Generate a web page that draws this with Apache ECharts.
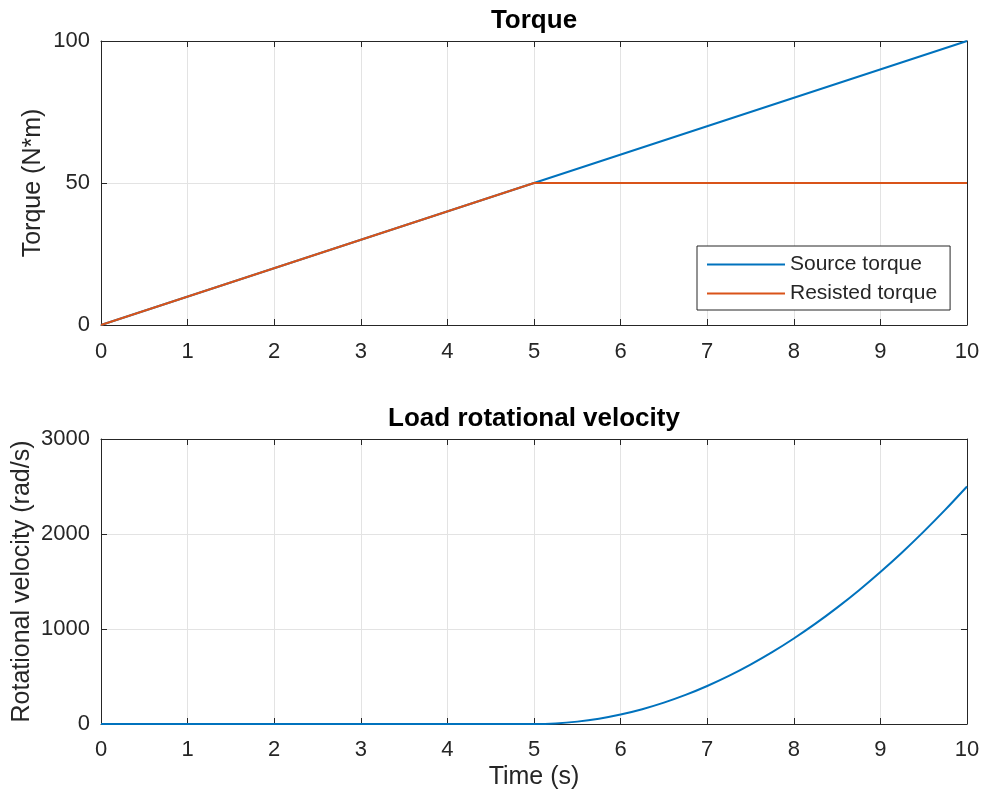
<!DOCTYPE html>
<html><head><meta charset="utf-8">
<script src="https://cdn.jsdelivr.net/npm/echarts@6/dist/echarts.min.js"></script>
<style>html,body{margin:0;padding:0;background:#fff}#c{width:987px;height:804px}</style>
</head><body><div id="c"></div>
<script>
// Torque subplot
var torqueTime = [0, 5, 10];
var sourceTorque = [0, 50, 100];
var resistedTorque = [0, 50, 50];
// Velocity subplot
var velTime = [0, 1, 2, 3, 4, 5, 5.25, 5.5, 5.75, 6, 6.25, 6.5, 6.75, 7, 7.25, 7.5, 7.75, 8, 8.25, 8.5, 8.75, 9, 9.25, 9.5, 9.75, 10];
var velocity = [0, 0, 0, 0, 0, 0, 6, 25, 56, 100, 156, 225, 306, 400, 506, 625, 756, 900, 1056, 1225, 1406, 1600, 1806, 2025, 2256, 2500];
var seriesNames = ['Source torque', 'Resisted torque'];
var titles = ['Torque', 'Load rotational velocity'];

function pairs(xs, ys) { return xs.map(function (x, i) { return [x, ys[i]]; }); }

var FONT = 'Liberation Sans, Arial, Helvetica, sans-serif';
var AX = '#262626';
var TICK_FS = 22;
var NAME_FS = 25;

function mainX(gi, name, margin) {
  return {
    type: 'value', gridIndex: gi, min: 0, max: 10, interval: 1, position: 'bottom',
    name: name, nameLocation: 'middle', nameGap: 41, nameMoveOverlap: false,
    nameTextStyle: { fontSize: NAME_FS, color: AX, fontFamily: FONT, verticalAlign: 'top' },
    axisLine: { show: true, onZero: false, lineStyle: { color: AX, width: 1 } },
    axisTick: { show: true, inside: true, length: 6, lineStyle: { color: AX } },
    axisLabel: { fontSize: TICK_FS, color: AX, fontFamily: FONT, margin: margin },
    splitLine: { show: true, lineStyle: { color: '#e3e3e3', width: 1 } }
  };
}
function topX(gi) {
  return {
    type: 'value', gridIndex: gi, min: 0, max: 10, interval: 1, position: 'top',
    axisLine: { show: true, onZero: false, lineStyle: { color: AX, width: 1 } },
    axisTick: { show: true, inside: true, length: 6, lineStyle: { color: AX } },
    axisLabel: { show: false }, splitLine: { show: false }
  };
}
function mainY(gi, max, interval, name, gap) {
  return {
    type: 'value', gridIndex: gi, min: 0, max: max, interval: interval, position: 'left',
    name: name, nameLocation: 'middle', nameGap: gap, nameMoveOverlap: false,
    nameTextStyle: { fontSize: NAME_FS, color: AX, fontFamily: FONT },
    axisLine: { show: true, onZero: false, lineStyle: { color: AX, width: 1 } },
    axisTick: { show: true, inside: true, length: 6, lineStyle: { color: AX } },
    axisLabel: { fontSize: TICK_FS, color: AX, fontFamily: FONT, margin: 11, formatter: function (v) { return String(v); } },
    splitLine: { show: true, lineStyle: { color: '#e3e3e3', width: 1 } }
  };
}
function rightY(gi, max, interval) {
  return {
    type: 'value', gridIndex: gi, min: 0, max: max, interval: interval, position: 'right',
    axisLine: { show: true, onZero: false, lineStyle: { color: AX, width: 1 } },
    axisTick: { show: true, inside: true, length: 6, lineStyle: { color: AX } },
    axisLabel: { show: false }, splitLine: { show: false }
  };
}

var cx = 101 + 866 / 2;
var chart = echarts.init(document.getElementById('c'), null, { renderer: 'canvas' });
chart.setOption({
  animation: false,
  backgroundColor: '#ffffff',
  textStyle: { fontFamily: FONT },
  grid: [
    { left: 101, top: 41, width: 866, height: 284, containLabel: false, outerBoundsMode: 'none' },
    { left: 101, top: 439, width: 866, height: 285, containLabel: false, outerBoundsMode: 'none' }
  ],
  xAxis: [mainX(0, '', 16), topX(0), mainX(1, 'Time (s)', 15), topX(1)],
  yAxis: [
    mainY(0, 100, 50, 'Torque (N*m)', 55), rightY(0, 100, 50),
    mainY(1, 3000, 1000, 'Rotational velocity (rad/s)', 66), rightY(1, 3000, 1000)
  ],
  legend: {
    data: seriesNames,
    orient: 'vertical', left: 697, top: 246,
    padding: [8, 13, 6, 10], itemGap: 8,
    itemWidth: 78, itemHeight: 2, icon: 'rect',
    backgroundColor: '#ffffff', borderColor: AX, borderWidth: 1, borderRadius: 0,
    textStyle: { fontSize: 21, color: AX, fontFamily: FONT }
  },
  graphic: [
    { type: 'text', x: cx, y: 21, style: { text: titles[0], font: 'bold 26px ' + FONT, fill: '#000', align: 'center', verticalAlign: 'middle' } },
    { type: 'text', x: cx, y: 419, style: { text: titles[1], font: 'bold 26px ' + FONT, fill: '#000', align: 'center', verticalAlign: 'middle' } }
  ],
  series: [
    { name: seriesNames[0], type: 'line', xAxisIndex: 0, yAxisIndex: 0, data: pairs(torqueTime, sourceTorque),
      showSymbol: false, symbol: 'none', lineStyle: { color: '#0072BD', width: 2 }, itemStyle: { color: '#0072BD' }, z: 3 },
    { name: seriesNames[1], type: 'line', xAxisIndex: 0, yAxisIndex: 0, data: pairs(torqueTime, resistedTorque),
      showSymbol: false, symbol: 'none', lineStyle: { color: '#D95319', width: 2 }, itemStyle: { color: '#D95319' }, z: 4 },
    { name: 'Velocity', type: 'line', xAxisIndex: 2, yAxisIndex: 2, data: pairs(velTime, velocity),
      showSymbol: false, symbol: 'none', smooth: 0.3, lineStyle: { color: '#0072BD', width: 2 }, itemStyle: { color: '#0072BD' } }
  ]
});
</script></body></html>
